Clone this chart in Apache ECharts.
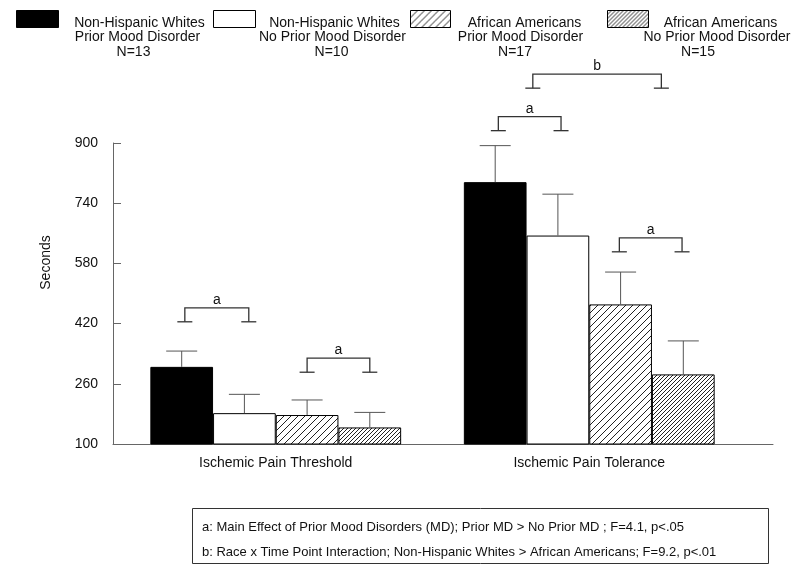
<!DOCTYPE html>
<html>
<head>
<meta charset="utf-8">
<script src="https://cdn.jsdelivr.net/npm/echarts/dist/echarts.min.js"></script>
<style>
  html, body { margin: 0; padding: 0; background: #fff; }
  #chart { width: 800px; height: 578px; }
</style>
</head>
<body>
<div id="chart"></div>
<script>
// ---------- data ----------
const categories = ['Ischemic Pain Threshold', 'Ischemic Pain Tolerance'];
const seriesNames = [
  'Non-Hispanic Whites Prior Mood Disorder',
  'Non-Hispanic Whites No Prior Mood Disorder',
  'African Americans Prior Mood Disorder',
  'African Americans No Prior Mood Disorder'
];
const legendLines = [
  ['Non-Hispanic Whites', 'Prior Mood Disorder', 'N=13'],
  ['Non-Hispanic Whites', 'No Prior Mood Disorder', 'N=10'],
  ['African Americans', 'Prior Mood Disorder', 'N=17'],
  ['African Americans', 'No Prior Mood Disorder', 'N=15']
];
// means (seconds)
const nhwPrior   = [305, 796];
const nhwNoPrior = [182, 654];
const aaPrior    = [177, 471];
const aaNoPrior  = [144, 285];
// standard errors (seconds)
const nhwPriorSE   = [42, 97];
const nhwNoPriorSE = [50, 110];
const aaPriorSE    = [40, 86];
const aaNoPriorSE  = [40, 89];
const yTicks = [100, 260, 420, 580, 740, 900];
// significance brackets: category, from bar, to bar (bar positions 0..3), bracket level (seconds)
const bracketCat   = [0, 0, 1, 1, 1];
const bracketFrom  = [0.05, 2, 0.05, 0.6, 1.98];
const bracketTo    = [1.07, 3, 1.05, 2.65, 2.98];
const bracketLevel = [462, 328, 970, 1083, 648];
const bracketLabel = ['a', 'a', 'a', 'b', 'a'];
const noteLines = [
  'a: Main Effect of Prior Mood Disorders (MD); Prior MD > No Prior MD ; F=4.1, p<.05',
  'b: Race x Time Point Interaction; Non-Hispanic Whites > African Americans; F=9.2, p<.01'
];

// ---------- styles ----------
const FONT = 'Liberation Sans, Arial, Helvetica, sans-serif';
function makeHatch(period) {
  const c = document.createElement('canvas');
  c.width = period; c.height = period;
  const g = c.getContext('2d');
  g.fillStyle = '#fff';
  g.fillRect(0, 0, period, period);
  g.strokeStyle = '#222';
  g.lineWidth = 1;
  for (let k = -1; k <= 1; k++) {
    g.beginPath();
    g.moveTo(k * period, period);
    g.lineTo(k * period + period, 0);
    g.stroke();
  }
  return { image: c, repeat: 'repeat' };
}
const sparseHatch = makeHatch(7);
const denseHatch = makeHatch(4);
const fills = ['#000', '#fff', sparseHatch, denseHatch];

const means = [nhwPrior, nhwNoPrior, aaPrior, aaNoPrior];
const ses = [nhwPriorSE, nhwNoPriorSE, aaPriorSE, aaNoPriorSE];

const errData = [];
for (let s = 0; s < 4; s++) {
  for (let c = 0; c < categories.length; c++) {
    errData.push([c, s, means[s][c], means[s][c] + ses[s][c]]);
  }
}
const bracketData = bracketCat.map((c, i) => [c, bracketFrom[i], bracketTo[i], bracketLevel[i]]);

const GAP = 0.2;
function barGeom(api) {
  const band = api.size([1, 0])[0];
  return band * (1 - GAP) / 4;
}

function renderErr(params, api) {
  const c = api.value(0), s = api.value(1), m = api.value(2), u = api.value(3);
  const bw = barGeom(api);
  const p0 = api.coord([c, m]);
  const p1 = api.coord([c, u]);
  const x = p0[0] + (s - 1.5) * bw;
  const half = 15.5;
  const st = { stroke: '#555', lineWidth: 1 };
  return {
    type: 'group',
    children: [
      { type: 'line', shape: { x1: x, y1: p0[1], x2: x, y2: p1[1] }, style: st },
      { type: 'line', shape: { x1: x - half, y1: p1[1], x2: x + half, y2: p1[1] }, style: st }
    ]
  };
}

function renderBracket(params, api) {
  const c = api.value(0), f = api.value(1), t = api.value(2), lv = api.value(3);
  const bw = barGeom(api);
  const p = api.coord([c, lv]);
  const x1 = p[0] + (f - 1.5) * bw;
  const x2 = p[0] + (t - 1.5) * bw;
  const y = p[1];
  const leg = 14, foot = 7.5;
  const st = { stroke: '#333', lineWidth: 1.3, fill: null };
  return {
    type: 'group',
    children: [
      { type: 'polyline', shape: { points: [[x1, y + leg], [x1, y], [x2, y], [x2, y + leg]] }, style: st },
      { type: 'line', shape: { x1: x1 - foot, y1: y + leg, x2: x1 + foot, y2: y + leg }, style: st },
      { type: 'line', shape: { x1: x2 - foot, y1: y + leg, x2: x2 + foot, y2: y + leg }, style: st },
      { type: 'text', style: { text: bracketLabel[params.dataIndex], x: (x1 + x2) / 2, y: y - 8,
        align: 'center', verticalAlign: 'middle', font: '14px ' + FONT, fill: '#111' } }
    ]
  };
}

// ---------- legend & notes as graphics ----------
const legendSwatch = [[16, 42], [213, 42], [410, 40], [607, 41]];
const legendLineCenters = [
  [139.5, 137.5, 133.5],
  [334.5, 332.5, 331.5],
  [524.5, 520.5, 515],
  [720.5, 717, 698]
];
const legendLineY = [23, 37.5, 52];
const graphics = [];
for (let i = 0; i < 4; i++) {
  graphics.push({
    type: 'rect', left: legendSwatch[i][0], top: 10,
    shape: { width: legendSwatch[i][1], height: 17 },
    style: { fill: fills[i], stroke: '#000', lineWidth: 1 }
  });
  for (let j = 0; j < 3; j++) {
    graphics.push({
      type: 'text', x: legendLineCenters[i][j], y: legendLineY[j],
      style: { text: legendLines[i][j], align: 'center', verticalAlign: 'middle',
        font: '14px ' + FONT, fill: '#111' }
    });
  }
}
graphics.push({
  type: 'text', x: 46.5, y: 262.5, rotation: Math.PI / 2,
  style: { text: 'Seconds', align: 'center', verticalAlign: 'middle', font: '14px ' + FONT, fill: '#111' }
});
graphics.push({
  type: 'rect', shape: { x: 192.5, y: 508.5, width: 576, height: 55 },
  style: { fill: '#fff', stroke: '#333', lineWidth: 1 }
});
graphics.push({
  type: 'text', x: 202, y: 527,
  style: { text: noteLines[0], align: 'left', verticalAlign: 'middle', font: '13px ' + FONT, fill: '#111' }
});
graphics.push({
  type: 'text', x: 202, y: 552,
  style: { text: noteLines[1], align: 'left', verticalAlign: 'middle', font: '13px ' + FONT, fill: '#111' }
});

// ---------- chart ----------
const chart = echarts.init(document.getElementById('chart'), null, { renderer: 'canvas' });
const yMin = yTicks[0], yMax = yTicks[yTicks.length - 1], yStep = yTicks[1] - yTicks[0];
const option = {
  animation: false,
  backgroundColor: '#fff',
  grid: [
    { left: 119, right: 54, top: 143, bottom: 134 },
    { left: 113, right: 27, top: 143, bottom: 134 }
  ],
  xAxis: [
    {
      type: 'category', gridIndex: 0, data: categories,
      axisLine: { show: false }, axisTick: { show: false },
      axisLabel: { fontSize: 14, color: '#111', fontFamily: FONT, margin: 12 }
    },
    {
      type: 'value', gridIndex: 1, min: 0, max: 1,
      axisLine: { show: true, lineStyle: { color: '#666', width: 1 } },
      axisTick: { show: false }, axisLabel: { show: false }, splitLine: { show: false }
    }
  ],
  yAxis: [
    { type: 'value', gridIndex: 0, min: yMin, max: yMax, interval: yStep, show: false },
    {
      type: 'value', gridIndex: 1, min: yMin, max: yMax, interval: yStep,
      axisLine: { show: true, lineStyle: { color: '#666', width: 1 } },
      axisTick: { show: true, inside: true, length: 8, lineStyle: { color: '#666' } },
      axisLabel: { fontSize: 14, color: '#111', fontFamily: FONT, margin: 15 },
      splitLine: { show: false }
    }
  ],
  series: [
    ...seriesNames.map((n, i) => ({
      name: n, type: 'bar', xAxisIndex: 0, yAxisIndex: 0,
      data: means[i],
      barGap: '0%', barCategoryGap: (GAP * 100) + '%',
      itemStyle: { color: fills[i], borderColor: '#000', borderWidth: 1 },
      z: 2
    })),
    {
      type: 'custom', name: 'SE', xAxisIndex: 0, yAxisIndex: 0,
      data: errData, encode: { x: 0, y: 3 }, renderItem: renderErr, clip: false, z: 3, silent: true
    },
    {
      type: 'custom', name: 'Significance', xAxisIndex: 0, yAxisIndex: 0,
      data: bracketData, encode: { x: 0, y: 3 }, renderItem: renderBracket, clip: false, z: 3, silent: true
    }
  ],
  graphic: graphics
};
chart.setOption(option);
</script>
</body>
</html>
